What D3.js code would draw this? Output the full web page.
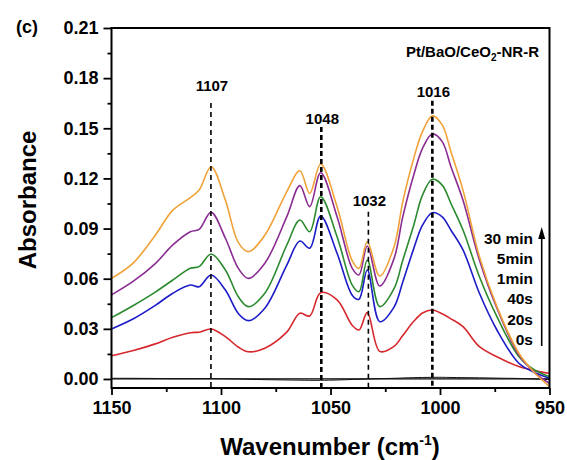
<!DOCTYPE html>
<html>
<head>
<meta charset="utf-8">
<script src="https://cdn.jsdelivr.net/npm/d3@7"></script>
<style>
  html, body { margin: 0; padding: 0; background: #fff; }
  svg { display: block; }
  text { font-family: "Liberation Sans", Arial, sans-serif; font-weight: bold; fill: #000; }
</style>
</head>
<body>
<svg id="chart" width="567" height="460"></svg>
<script>
// ---------------- DATA ----------------
const wavenumbers = [1150, 1140, 1130, 1122, 1114, 1110, 1104.5, 1098, 1092, 1087.5, 1080, 1070, 1064, 1059.5, 1054.5, 1047, 1040, 1037, 1033.2, 1027.5, 1021, 1017, 1012, 1008, 1003.5, 999, 995, 989.5, 982, 974, 964, 957, 950];

const abs30min = [0.0602, 0.0695, 0.086, 0.101, 0.1085, 0.113, 0.127, 0.107, 0.0814, 0.0762, 0.086, 0.112, 0.1246, 0.111, 0.1286, 0.1031, 0.0705, 0.0662, 0.0821, 0.0616, 0.079, 0.106, 0.132, 0.148, 0.1574, 0.152, 0.136, 0.113, 0.0732, 0.0433, 0.0154, 0.004, -0.0046];
const abs5min  = [0.0503, 0.0585, 0.069, 0.0802, 0.0881, 0.0895, 0.0997, 0.0842, 0.066, 0.0602, 0.0692, 0.097, 0.1157, 0.1031, 0.1234, 0.0971, 0.066, 0.0622, 0.0796, 0.0556, 0.072, 0.097, 0.122, 0.138, 0.1466, 0.142, 0.127, 0.107, 0.0712, 0.0423, 0.0144, 0.004, -0.0026];
const abs1min  = [0.0367, 0.044, 0.052, 0.0592, 0.0662, 0.0672, 0.0748, 0.0652, 0.049, 0.0433, 0.0513, 0.08, 0.0951, 0.0881, 0.109, 0.0851, 0.056, 0.0522, 0.0712, 0.0433, 0.054, 0.071, 0.092, 0.11, 0.1195, 0.116, 0.105, 0.0891, 0.0612, 0.0373, 0.0134, 0.0055, 0.0014];
const abs40s   = [0.0299, 0.036, 0.044, 0.0513, 0.0562, 0.0552, 0.0622, 0.0532, 0.039, 0.0349, 0.0423, 0.068, 0.0825, 0.0782, 0.0975, 0.0752, 0.05, 0.0477, 0.0652, 0.0343, 0.043, 0.058, 0.078, 0.092, 0.0995, 0.097, 0.089, 0.0772, 0.0513, 0.0293, 0.0094, 0.004, 0.0004];
const abs20s   = [0.0139, 0.017, 0.021, 0.025, 0.0277, 0.028, 0.0299, 0.0253, 0.019, 0.0163, 0.0184, 0.028, 0.0393, 0.0377, 0.0516, 0.0473, 0.032, 0.0293, 0.0397, 0.0165, 0.0195, 0.026, 0.0345, 0.0395, 0.0413, 0.039, 0.036, 0.0313, 0.0193, 0.0133, 0.0074, 0.005, 0.0034];
const abs0s    = [0.0004, 0.0004, 0.0003, 0.0002, 0.0002, 0.0002, 0.0002, 0.0001, 0.0000, -0.0002, -0.0004, -0.0006, -0.0007, -0.0008, -0.0008, -0.0006, -0.0003, -0.0002, 0.0000, 0.0002, 0.0004, 0.0006, 0.0008, 0.0009, 0.001, 0.001, 0.0009, 0.0008, 0.0007, 0.0005, 0.0003, 0.0, -0.0004];

const seriesLabels = ["30 min", "5min", "1min", "40s", "20s", "0s"];
const seriesColors = ["#F0A239", "#8A2C92", "#2B8A2E", "#1C1CC8", "#D6282D", "#111111"];

const yTickValues = [0.00, 0.03, 0.06, 0.09, 0.12, 0.15, 0.18, 0.21];
const xTickValues = [1150, 1100, 1050, 1000, 950];

// peak annotations: dashed line position, label text, top of line (absorbance), label baseline (absorbance)
const peakPositions = [1104.6, 1054.2, 1032.7, 1003.5];
const peakLabels    = ["1107", "1048", "1032", "1016"];
const peakLineTops  = [0.1651, 0.1508, 0.1001, 0.1664];
const peakLabelYs   = [0.1723, 0.1526, 0.1034, 0.1685];
const peakLineBold  = [false, true, false, true];

// ---------------- LAYOUT ----------------
const svg = d3.select("#chart");
const plotLeft = 111.5, plotRight = 549.5, plotTop = 28, plotBottom = 388;

const x = d3.scaleLinear().domain([1150, 950]).range([plotLeft, plotRight]);
const y = d3.scaleLinear().domain([-0.0054, 0.21]).range([plotBottom, plotTop]);

const series = [abs30min, abs5min, abs1min, abs40s, abs20s, abs0s];

// zero reference line
svg.append("line")
  .attr("x1", plotLeft).attr("x2", plotRight)
  .attr("y1", y(0)).attr("y2", y(0))
  .attr("stroke", "#000").attr("stroke-width", 1.3);

const line = d3.line()
  .x(d => x(d[0]))
  .y(d => y(d[1]))
  .curve(d3.curveCatmullRom.alpha(0.5));

const g = svg.append("g");
for (let i = series.length - 1; i >= 0; i--) {
  const pts = wavenumbers.map((w, j) => [w, series[i][j]]);
  g.append("path")
    .datum(pts)
    .attr("d", line)
    .attr("fill", "none")
    .attr("stroke", seriesColors[i])
    .attr("stroke-width", i === 5 ? 1.0 : 1.6);
}

// peak dashed lines and labels
peakPositions.forEach((p, i) => {
  svg.append("line")
    .attr("x1", x(p)).attr("x2", x(p))
    .attr("y1", y(peakLineTops[i])).attr("y2", plotBottom - 1)
    .attr("stroke", "#000")
    .attr("stroke-width", peakLineBold[i] ? 2.6 : 1.6)
    .attr("stroke-dasharray", peakLineBold[i] ? "5,3" : "5,4");
  svg.append("text")
    .attr("x", x(p) + 1)
    .attr("y", y(peakLabelYs[i]))
    .attr("text-anchor", "middle")
    .attr("font-size", 15)
    .text(peakLabels[i]);
});

// axes
const yAxis = d3.axisLeft(y).tickValues(yTickValues).tickFormat(d3.format(".2f")).tickSize(8).tickPadding(5);
const yMinor = d3.axisLeft(y).tickValues(d3.range(0.015, 0.21, 0.03)).tickFormat("").tickSize(4);
const xAxis = d3.axisBottom(x).tickValues(xTickValues).tickFormat(d3.format("d")).tickSize(7).tickPadding(6);
const xMinor = d3.axisBottom(x).tickValues([1125, 1075, 1025, 975]).tickFormat("").tickSize(4);

function styleAxis(sel, fs) {
  sel.select(".domain").remove();
  sel.selectAll(".tick line").attr("stroke", "#000").attr("stroke-width", 1.8);
  sel.selectAll(".tick text").attr("font-size", fs).attr("fill", "#000")
     .style("font-family", "'Liberation Sans', Arial, sans-serif").style("font-weight", "bold");
}

svg.append("g").attr("transform", `translate(${plotLeft},0)`).call(yAxis).call(s => styleAxis(s, 18));
svg.append("g").attr("transform", `translate(${plotLeft},0)`).call(yMinor).call(s => styleAxis(s, 18));
svg.append("g").attr("transform", `translate(0,${plotBottom})`).call(xAxis).call(s => styleAxis(s, 18));
svg.append("g").attr("transform", `translate(0,${plotBottom})`).call(xMinor).call(s => styleAxis(s, 18));

// frame
svg.append("rect")
  .attr("x", plotLeft).attr("y", plotTop)
  .attr("width", plotRight - plotLeft).attr("height", plotBottom - plotTop)
  .attr("fill", "none").attr("stroke", "#000").attr("stroke-width", 2);

// axis titles
svg.append("text")
  .attr("transform", `translate(36,200) rotate(-90)`)
  .attr("text-anchor", "middle")
  .attr("font-size", 24)
  .text("Absorbance");

const xt = svg.append("text")
  .attr("x", 330).attr("y", 455)
  .attr("text-anchor", "middle")
  .attr("font-size", 24);
xt.append("tspan").text("Wavenumber (cm");
xt.append("tspan").attr("font-size", 14).attr("dy", -10).text("-1");
xt.append("tspan").attr("dy", 10).text(")");

// panel label
svg.append("text").attr("x", 16).attr("y", 33).style("font-size", "18px").text("(c)");

// sample name
const sn = svg.append("text").attr("x", 539).attr("y", 57).attr("text-anchor", "end").attr("font-size", 15);
sn.append("tspan").text("Pt/BaO/CeO");
sn.append("tspan").attr("font-size", 10).attr("dy", 4).text("2");
sn.append("tspan").attr("dy", -4).text("-NR-R");

// time legend
const legendBaselines = [244, 264, 284, 304, 325, 345];
seriesLabels.forEach((t, i) => {
  svg.append("text")
    .attr("x", 533).attr("y", legendBaselines[i])
    .attr("text-anchor", "end")
    .attr("font-size", 15.5)
    .text(t);
});

// arrow
svg.append("line")
  .attr("x1", 541.7).attr("x2", 541.7)
  .attr("y1", 346).attr("y2", 236)
  .attr("stroke", "#000").attr("stroke-width", 1.6);
svg.append("path")
  .attr("d", "M541.7,227 L545.2,239 L538.2,239 Z")
  .attr("fill", "#000");
</script>
</body>
</html>
